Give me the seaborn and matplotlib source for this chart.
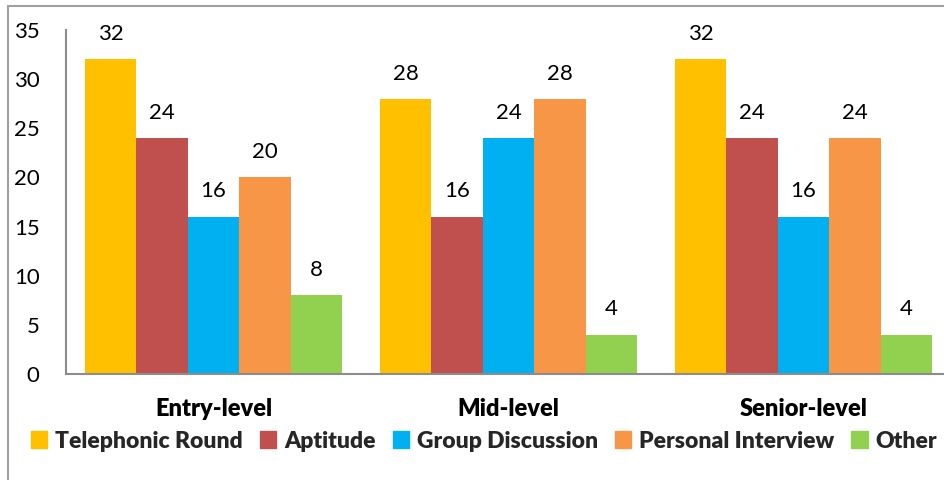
import matplotlib
matplotlib.use("Agg")
import matplotlib.pyplot as plt
from matplotlib.patches import Rectangle
import seaborn as sns
import pandas as pd

# Interview rounds by hiring level
levels = ["Entry-level", "Mid-level", "Senior-level"]
stages = ["Telephonic Round", "Aptitude", "Group Discussion", "Personal Interview", "Other"]
telephonic = [32, 28, 32]
aptitude = [24, 16, 24]
group_discussion = [16, 24, 16]
personal_interview = [20, 28, 24]
other = [8, 4, 4]
y_ticks = [0, 5, 10, 15, 20, 25, 30, 35]
colors = ["#FFC000", "#C0504D", "#00B0F0", "#F79646", "#92D050"]

series = [telephonic, aptitude, group_discussion, personal_interview, other]
rows = []
for stage, vals in zip(stages, series):
    for lvl, v in zip(levels, vals):
        rows.append({"level": lvl, "stage": stage, "count": v})
df = pd.DataFrame(rows)

sns.set_theme(style="white")
plt.rcParams["font.family"] = ["Lato", "DejaVu Sans"]

fig = plt.figure(figsize=(9.44, 4.8), dpi=100)
ax = fig.add_axes([66 / 944, 1 - 374 / 480, (951 - 66) / 944, (374 - 30) / 480])

sns.barplot(data=df, x="level", y="count", hue="stage", order=levels,
            hue_order=stages, palette=colors, width=0.871, saturation=1,
            linewidth=0, ax=ax, legend=False)

for cont in ax.containers:
    ax.bar_label(cont, fmt="%d", padding=11, fontsize=16, color="black")

ax.set_ylim(0, 35)
ax.set_yticks(y_ticks)
ax.set_xlim(-0.5, 2.5)
ax.set_xlabel("")
ax.set_ylabel("")
ax.tick_params(axis="y", length=0, pad=19, labelsize=16, labelcolor="black")
ax.tick_params(axis="x", length=0, pad=17, labelsize=17, labelcolor="black")
for lbl in ax.get_xticklabels():
    lbl.set_fontweight("heavy")

for side in ["top", "right"]:
    ax.spines[side].set_visible(False)
for side in ["left", "bottom"]:
    ax.spines[side].set_color("#8c8c8c")
    ax.spines[side].set_linewidth(1.5)

handles = [Rectangle((0, 0), 1, 1, color=c) for c in colors]
fig.legend(handles, stages, loc="center", bbox_to_anchor=(484 / 944, 1 - 441 / 480),
           ncol=5, frameon=False, handlelength=0.7, handleheight=0.7,
           handletextpad=0.35, columnspacing=0.75,
           prop={"weight": "heavy", "size": 16.5})

# Chart-area frame
fig.add_artist(Rectangle((8 / 944, -0.5), 2, 0.5 + (1 - 5.5 / 480),
                         transform=fig.transFigure, fill=False,
                         edgecolor="#a0a0a0", linewidth=1.5))

fig.savefig("out.png", dpi=100)
